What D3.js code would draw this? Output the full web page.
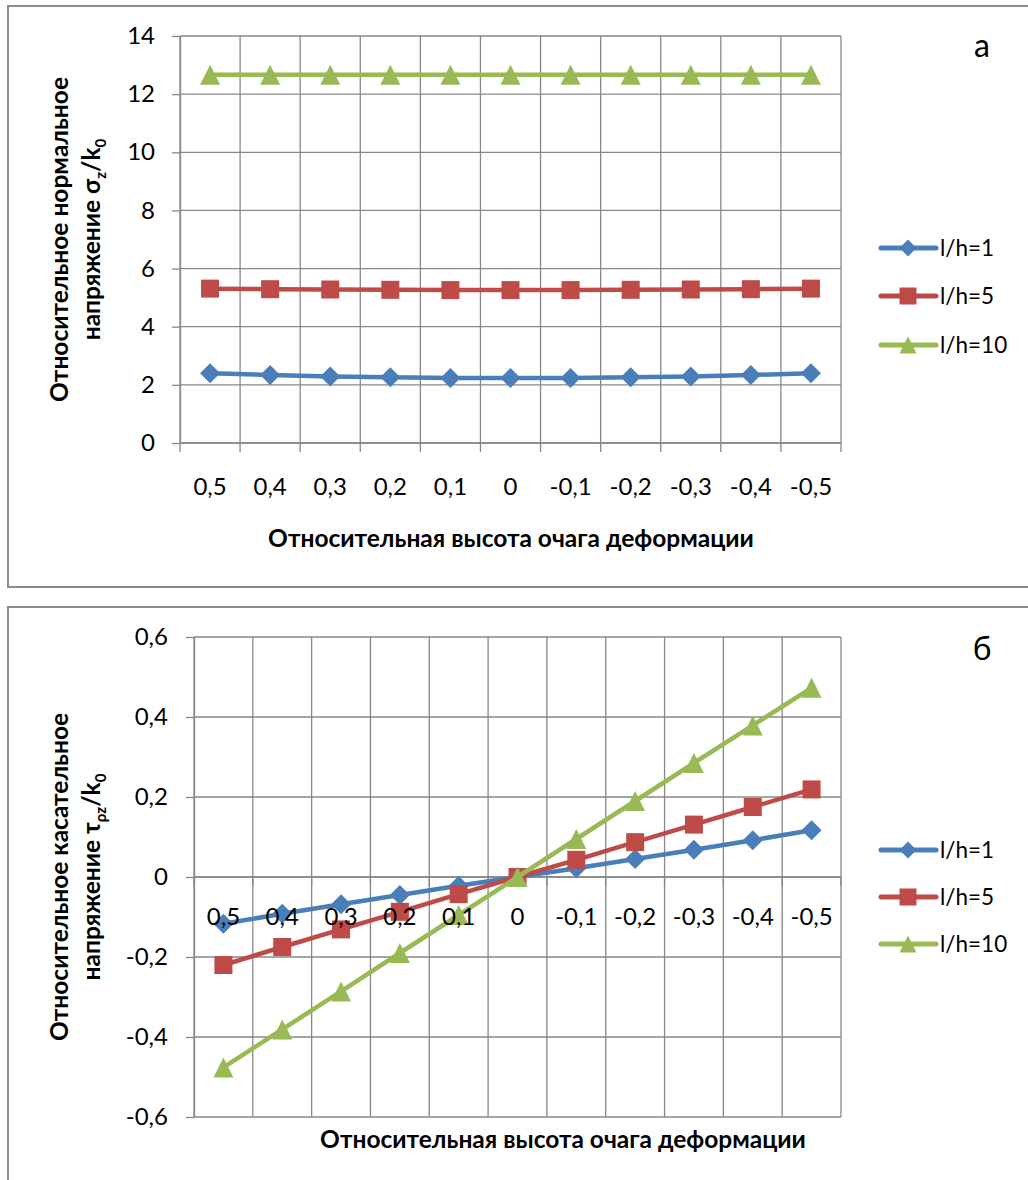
<!DOCTYPE html>
<html>
<head>
<meta charset="utf-8">
<script src="https://cdn.jsdelivr.net/npm/d3@7/dist/d3.min.js"></script>
<style>
  html, body { margin: 0; padding: 0; background: #ffffff; }
  svg { display: block; }
  text { font-family: Lato, "Open Sans", sans-serif; fill: #000; }
</style>
</head>
<body>
<svg id="fig" width="1028" height="1180"></svg>
<script>
// Category axis: relative height of the deformation zone
const categories = ["0,5", "0,4", "0,3", "0,2", "0,1", "0", "-0,1", "-0,2", "-0,3", "-0,4", "-0,5"];

// Relative normal stress σz/k0
const sigmaL1  = [2.40, 2.34, 2.29, 2.26, 2.24, 2.24, 2.24, 2.26, 2.29, 2.34, 2.40];
const sigmaL5  = [5.31, 5.29, 5.28, 5.27, 5.26, 5.26, 5.26, 5.27, 5.28, 5.29, 5.31];
const sigmaL10 = [12.67, 12.67, 12.67, 12.67, 12.67, 12.67, 12.67, 12.67, 12.67, 12.67, 12.67];

// Relative shear stress τρz/k0
const tauL1  = [-0.117, -0.092, -0.068, -0.045, -0.022, 0, 0.022, 0.045, 0.068, 0.092, 0.117];
const tauL5  = [-0.220, -0.175, -0.131, -0.087, -0.043, 0, 0.043, 0.087, 0.131, 0.175, 0.219];
const tauL10 = [-0.476, -0.381, -0.286, -0.190, -0.095, 0, 0.095, 0.190, 0.285, 0.379, 0.473];

const seriesNames = ["l/h=1", "l/h=5", "l/h=10"];
const sigmaTicks = [0, 2, 4, 6, 8, 10, 12, 14];
const tauTicks = [-0.6, -0.4, -0.2, 0, 0.2, 0.4, 0.6];

const colors = ["#4A7EBB", "#BE4B48", "#98B954"];
const markers = ["diamond", "square", "triangle"];
const gridColor = "#878787";

const TICK_FS = 24;
const TITLE_FS = 24.5;
const LEGEND_FS = 22.5;

const ru = d3.formatLocale({ decimal: ",", thousands: " ", grouping: [3], currency: ["", ""], minus: "-" });
const fmtTau = v => (Math.abs(v) < 1e-9 ? "0" : ru.format(".1f")(v));

const svg = d3.select("#fig");

function markerPath(type, s) {
  const h = s / 2;
  if (type === "diamond") return `M0,${-h}L${h},0L0,${h}L${-h},0Z`;
  if (type === "square") return `M${-h},${-h}H${h}V${h}H${-h}Z`;
  return `M0,${-h}L${h},${h}L${-h},${h}Z`;
}

function drawPanel(cfg) {
  const g = svg.append("g");

  // outer frame of the panel
  g.append("rect")
    .attr("x", cfg.frame[0]).attr("y", cfg.frame[1])
    .attr("width", cfg.frame[2]).attr("height", cfg.frame[3])
    .attr("fill", "none").attr("stroke", "#8c8c8c").attr("stroke-width", 2);

  const x = d3.scaleBand().domain(categories).range([cfg.left, cfg.right]).padding(0);
  const y = d3.scaleLinear().domain(cfg.domain).range([cfg.bottom, cfg.top]);

  // horizontal gridlines
  g.append("g").selectAll("line").data(cfg.ticks).join("line")
    .attr("x1", cfg.left).attr("x2", cfg.right)
    .attr("y1", d => y(d)).attr("y2", d => y(d))
    .attr("stroke", gridColor).attr("stroke-width", 1.3);

  // vertical gridlines on category boundaries
  const bounds = categories.map(c => x(c)).concat([cfg.right]);
  g.append("g").selectAll("line").data(bounds).join("line")
    .attr("x1", d => d).attr("x2", d => d)
    .attr("y1", cfg.top).attr("y2", cfg.bottom)
    .attr("stroke", gridColor).attr("stroke-width", 1.3);

  // value axis
  const yAxis = d3.axisLeft(y).tickValues(cfg.ticks).tickFormat(cfg.fmt)
    .tickSize(8).tickPadding(cfg.yPad).tickSizeOuter(0);
  const ya = g.append("g").attr("transform", `translate(${cfg.left},0)`).call(yAxis);
  ya.select(".domain").attr("stroke", gridColor).attr("stroke-width", 1.3);
  ya.selectAll(".tick line").attr("stroke", gridColor).attr("stroke-width", 1.3);
  ya.selectAll("text").attr("font-size", TICK_FS).attr("font-family", "Lato, 'Open Sans', sans-serif").attr("fill", "#000");

  // category tick marks on boundaries
  const axisY = y(cfg.axisAt);
  g.append("g").selectAll("line").data(bounds).join("line")
    .attr("x1", d => d).attr("x2", d => d)
    .attr("y1", axisY).attr("y2", axisY + 9)
    .attr("stroke", gridColor).attr("stroke-width", 1.3);
  g.append("line").attr("x1", cfg.left).attr("x2", cfg.right)
    .attr("y1", axisY).attr("y2", axisY)
    .attr("stroke", gridColor).attr("stroke-width", 1.3);

  // series lines and markers
  const line = d3.line().x((d, i) => x(categories[i]) + x.bandwidth() / 2).y(d => y(d));
  cfg.series.forEach((vals, si) => {
    g.append("path").datum(vals).attr("d", line)
      .attr("fill", "none").attr("stroke", colors[si]).attr("stroke-width", 4.5)
      .attr("stroke-linejoin", "round");
    g.append("g").selectAll("path").data(vals).join("path")
      .attr("transform", (d, i) => `translate(${x(categories[i]) + x.bandwidth() / 2},${y(d)})`)
      .attr("d", markerPath(markers[si], si === 1 ? 18 : 20))
      .attr("fill", colors[si]);
  });

  // category labels
  const xAxis = d3.axisBottom(x).tickSize(0).tickPadding(cfg.xPad);
  const xa = g.append("g").attr("transform", `translate(0,${axisY})`).call(xAxis);
  xa.select(".domain").remove();
  xa.selectAll("text").attr("font-size", TICK_FS).attr("font-family", "Lato, 'Open Sans', sans-serif").attr("fill", "#000");

  // category axis title
  g.append("text").attr("x", cfg.xTitle[0]).attr("y", cfg.xTitle[1])
    .attr("text-anchor", "middle").attr("font-size", TITLE_FS).attr("font-weight", "bold")
    .text("Относительная высота очага деформации");

  // value axis title (two lines, rotated)
  const cy = (cfg.top + cfg.bottom) / 2;
  g.append("text").attr("transform", `translate(68,${cy}) rotate(-90)`)
    .attr("text-anchor", "middle").attr("font-size", TITLE_FS).attr("font-weight", "bold")
    .text(cfg.yTitle1);
  const t2 = g.append("text").attr("transform", `translate(100,${cy}) rotate(-90)`)
    .attr("text-anchor", "middle").attr("font-size", TITLE_FS).attr("font-weight", "bold");
  t2.append("tspan").text(cfg.yTitle2[0]);
  t2.append("tspan").attr("font-size", 15).attr("dy", 6).text(cfg.yTitle2[1]);
  t2.append("tspan").attr("dy", -6).text("/k");
  t2.append("tspan").attr("font-size", 15).attr("dy", 6).text("0");

  // legend
  cfg.legendY.forEach((ly, si) => {
    g.append("line").attr("x1", 881).attr("x2", 936).attr("y1", ly).attr("y2", ly)
      .attr("stroke", colors[si]).attr("stroke-width", 5).attr("stroke-linecap", "round");
    g.append("path").attr("transform", `translate(908,${ly})`)
      .attr("d", markerPath(markers[si], 17)).attr("fill", colors[si]);
    g.append("text").attr("x", 940).attr("y", ly).attr("dy", "0.35em")
      .attr("font-size", LEGEND_FS).text(seriesNames[si]);
  });

  // panel letter
  g.append("text").attr("x", 982).attr("y", cfg.letterY)
    .attr("text-anchor", "middle").attr("font-size", 32)
    .attr("font-family", "'Liberation Serif', 'DejaVu Serif', serif")
    .text(cfg.letter);
}

drawPanel({
  frame: [8, 6, 1040, 581],
  left: 180, right: 841, top: 36, bottom: 443,
  domain: [0, 14], ticks: sigmaTicks, fmt: d => String(d), axisAt: 0,
  yPad: 17, xPad: 35,
  series: [sigmaL1, sigmaL5, sigmaL10],
  xTitle: [511, 547],
  yTitle1: "Относительное нормальное",
  yTitle2: ["напряжение σ", "z"],
  legendY: [248, 296, 345],
  letter: "а", letterY: 57
});

drawPanel({
  frame: [8, 607, 1040, 620],
  left: 194, right: 841, top: 637, bottom: 1117,
  domain: [-0.6, 0.6], ticks: tauTicks, fmt: fmtTau, axisAt: 0,
  yPad: 18, xPad: 31,
  series: [tauL1, tauL5, tauL10],
  xTitle: [563, 1148],
  yTitle1: "Относительное касательное",
  yTitle2: ["напряжение τ", "ρz"],
  legendY: [850, 897, 944],
  letter: "б", letterY: 660
});
</script>
</body>
</html>
